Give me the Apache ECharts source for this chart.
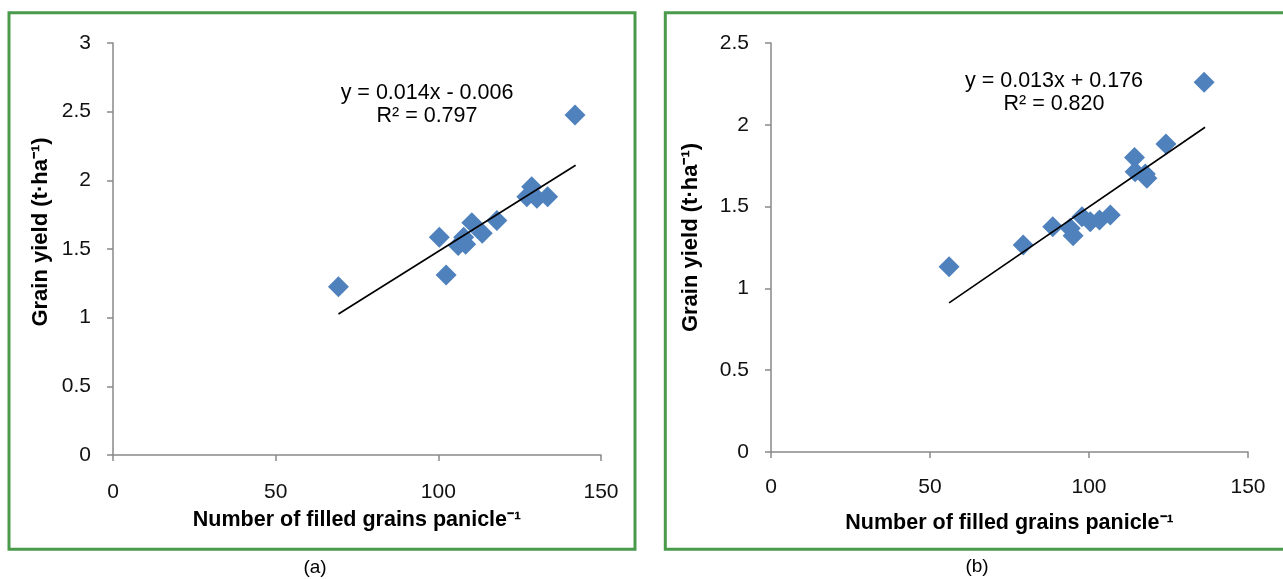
<!DOCTYPE html>
<html>
<head>
<meta charset="utf-8">
<script src="https://cdn.jsdelivr.net/npm/echarts@6/dist/echarts.min.js"></script>
<style>
  html, body { margin: 0; padding: 0; background: #fff; }
  #main { width: 1283px; height: 579px; }
</style>
</head>
<body>
<div id="main"></div>
<script>
// panel (a): filled grains vs grain yield
var grainsA = [69.3, 100.3, 102.4, 106.1, 107.8, 108.4, 110.3, 113.5, 118.0, 127.2, 128.7, 130.3, 133.6, 142.0];
var yieldA  = [1.226, 1.585, 1.311, 1.525, 1.585, 1.535, 1.692, 1.615, 1.707, 1.88, 1.954, 1.87, 1.88, 2.476];
var trendA  = [[69.3, 1.027], [142.2, 2.11]];

// panel (b)
var grainsB = [56.0, 79.3, 88.6, 94.1, 95.0, 97.8, 100.4, 103.3, 106.7, 114.3, 114.5, 117.7, 118.2, 124.2, 136.2];
var yieldB  = [1.133, 1.265, 1.377, 1.367, 1.322, 1.438, 1.408, 1.418, 1.449, 1.80, 1.713, 1.70, 1.673, 1.883, 2.26];
var trendB  = [[56.0, 0.912], [136.5, 1.985]];

var xTicks = [0, 50, 100, 150];
var yMaxA = 3, yMaxB = 2.5;

var font = 'Arial, "Liberation Sans", sans-serif';
var green = '#4a9a4c';
var blue = '#4f81bd';

function pairs(xs, ys) {
  var out = [];
  for (var i = 0; i < xs.length; i++) out.push([xs[i], ys[i]]);
  return out;
}

function xAxisOpt(idx, gap, margin) {
  return {
    type: 'value', gridIndex: idx,
    min: xTicks[0], max: xTicks[xTicks.length - 1], interval: 50,
    name: 'Number of filled grains panicle\u207B\u00B9',
    nameLocation: 'middle', nameGap: gap,
    nameTextStyle: { fontFamily: font, fontSize: 21.5, fontWeight: 'bold', color: '#000' },
    axisLine: { lineStyle: { color: '#898989', width: 1.5 } },
    axisTick: { show: true, length: 6, lineStyle: { color: '#898989', width: 1.5 } },
    axisLabel: { fontFamily: font, fontSize: 21, color: '#111', margin: margin },
    splitLine: { show: false }
  };
}

function yAxisOpt(idx, max, gap, pad) {
  return {
    type: 'value', gridIndex: idx,
    min: 0, max: max, interval: 0.5,
    name: 'Grain yield (t\u00B7ha\u207B\u00B9)',
    nameLocation: 'middle', nameGap: gap, nameRotate: 90,
    nameTextStyle: { fontFamily: font, fontSize: 22, fontWeight: 'bold', color: '#000', padding: pad },
    axisLine: { lineStyle: { color: '#898989', width: 1.5 } },
    axisTick: { show: true, length: 6, lineStyle: { color: '#898989', width: 1.5 } },
    axisLabel: { fontFamily: font, fontSize: 21, color: '#111', margin: 22 },
    splitLine: { show: false }
  };
}

var chart = echarts.init(document.getElementById('main'), null, { renderer: 'canvas' });

var option = {
  backgroundColor: '#fff',
  animation: false,
  grid: [
    { left: 113, top: 43, width: 488, height: 412 },
    { left: 771, top: 43, width: 477, height: 409 }
  ],
  xAxis: [xAxisOpt(0, 54, 27), xAxisOpt(1, 60, 25)],
  yAxis: [yAxisOpt(0, yMaxA, 61, [0, 0, 0, 34]), yAxisOpt(1, yMaxB, 69, [0, 0, 0, 20])],
  series: [
    {
      type: 'scatter', xAxisIndex: 0, yAxisIndex: 0,
      symbol: 'diamond', symbolSize: 21,
      itemStyle: { color: blue, opacity: 1 },
      data: pairs(grainsA, yieldA)
    },
    {
      type: 'line', xAxisIndex: 0, yAxisIndex: 0,
      symbol: 'none', lineStyle: { color: '#000', width: 1.6 },
      data: trendA
    },
    {
      type: 'scatter', xAxisIndex: 1, yAxisIndex: 1,
      symbol: 'diamond', symbolSize: 21,
      itemStyle: { color: blue, opacity: 1 },
      data: pairs(grainsB, yieldB)
    },
    {
      type: 'line', xAxisIndex: 1, yAxisIndex: 1,
      symbol: 'none', lineStyle: { color: '#000', width: 1.6 },
      data: trendB
    }
  ],
  graphic: [
    // panel frames
    { type: 'rect', shape: { x: 9, y: 12.7, width: 626, height: 536.6 },
      style: { fill: 'none', stroke: green, lineWidth: 3 }, silent: true },
    { type: 'rect', shape: { x: 665.3, y: 12.7, width: 630, height: 536.6 },
      style: { fill: 'none', stroke: green, lineWidth: 3 }, silent: true },
    // equations
    { type: 'text', x: 427, y: 82,
      style: { text: 'y = 0.014x - 0.006\nR\u00B2 = 0.797', fontFamily: font, fontSize: 21.5,
               fill: '#000', align: 'center', verticalAlign: 'top', lineHeight: 23 } },
    { type: 'text', x: 1054, y: 70,
      style: { text: 'y = 0.013x + 0.176\nR\u00B2 = 0.820', fontFamily: font, fontSize: 21.5,
               fill: '#000', align: 'center', verticalAlign: 'top', lineHeight: 23 } },
    // panel captions
    { type: 'text', x: 315, y: 568,
      style: { text: '(a)', fontFamily: font, fontSize: 19, fill: '#000', align: 'center', verticalAlign: 'middle' } },
    { type: 'text', x: 977, y: 567,
      style: { text: '(b)', fontFamily: font, fontSize: 19, fill: '#000', align: 'center', verticalAlign: 'middle' } }
  ]
};

chart.setOption(option);
</script>
</body>
</html>
